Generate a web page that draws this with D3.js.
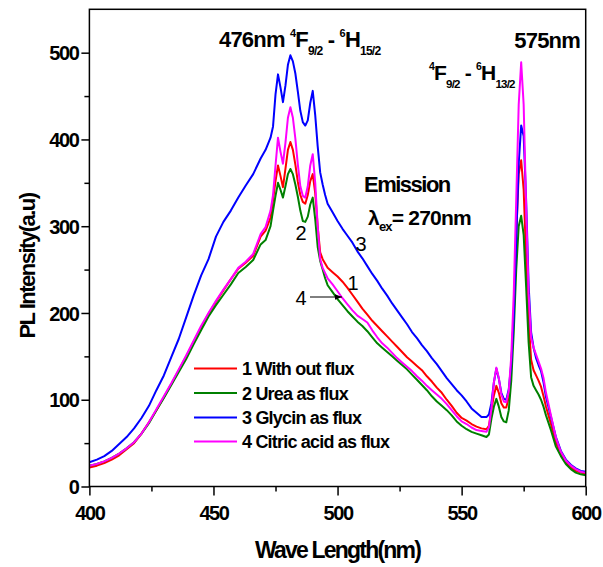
<!DOCTYPE html>
<html>
<head>
<meta charset="utf-8">
<script src="https://cdn.jsdelivr.net/npm/d3@7"></script>
<style>
  html, body { margin: 0; padding: 0; background: #fff; }
  svg { display: block; }
  text { font-family: "Liberation Sans", Arial, sans-serif; fill: #000; }
</style>
</head>
<body>
<svg id="chart" width="603" height="567"></svg>
<script>
// Emission wavelengths (nm)
const wavelengths = [
  400,403,406,409,412,415,418,421,424,427,430,433,436,439,442,445,448,451,454,457,460,463,466,469,
  471,473,
  474,475,476,477,478,479,480,481,482,483,484,485,486,487,488,489,490,491,492,493,494,495,496,
  498,500,502,504,506,508,510,512,514,516,518,520,522,524,526,528,530,532,534,536,538,540,542,544,546,548,550,552,554,556,558,560,
  561,562,563,564,565,566,567,568,569,570,571,572,573,574,575,576,577,578,579,580,581,582,583,584,
  586,588,590,592,594,596,598,600
];

// PL intensity (a.u) for each sample
const withoutFlux = [
  22,24,27,31,36,43,50,61,74,88,103,118,134,150,167,183,199,213,226,239,251,258,266,288,
  295,310,
  330,352,370,358,345,366,388,397,388,371,351,336,328,326,336,352,360,338,300,270,262,257,252,
  247,242,236,229,221,213,205,198,191,185,179,173,167,161,155,149,144,139,134,127,121,114,108,100,93,85,79,76,72,69,67,66,
  70,88,105,116,108,96,91,91,103,138,198,290,360,376,342,262,192,146,134,128,122,115,104,92,
  72,51,37,28,22,18,16,15
];
const ureaFlux = [
  24,26,29,33,38,44,51,61,73,88,102,117,132,147,164,180,196,209,221,233,246,253,261,279,
  284,300,
  318,335,350,342,333,346,360,366,360,348,334,318,306,305,311,325,333,308,276,260,250,240,232,
  224,216,209,202,196,190,185,179,172,165,160,155,150,145,140,135,129,123,117,111,104,98,93,88,82,75,70,66,63,61,59,57,
  60,78,92,101,92,80,75,74,88,122,178,250,300,312,290,230,166,126,116,111,106,100,92,82,
  65,46,35,26,20,16,14,13
];
const glycinFlux = [
  28,31,35,41,49,57,67,79,93,111,128,149,170,195,220,243,262,288,305,318,333,347,360,378,
  388,402,
  415,452,475,460,443,462,486,497,490,476,455,433,420,416,422,442,456,428,392,362,348,336,326,
  316,306,297,289,281,271,263,254,245,237,228,220,211,203,195,187,178,171,163,156,148,141,133,125,118,111,105,98,90,85,80,80,
  83,96,120,136,124,108,101,100,112,142,195,285,372,416,404,330,232,178,160,148,140,133,120,103,
  80,57,41,31,25,21,18,17
];
const citricFlux = [
  24,26,29,33,38,44,51,61,74,89,104,119,135,151,168,185,200,214,227,239,252,259,268,291,
  299,318,
  336,370,402,386,372,396,425,437,425,401,371,346,335,333,346,370,383,350,300,262,252,246,240,
  233,225,217,210,203,197,193,189,180,172,165,160,154,148,143,138,133,127,122,116,111,106,101,95,88,81,75,72,68,65,64,63,
  68,90,120,137,125,106,98,97,110,150,222,330,440,489,440,322,222,172,160,152,144,136,125,108,
  82,56,40,30,24,20,17,16
];

const seriesNames = ["1 With out flux", "2 Urea as flux", "3 Glycin as flux", "4 Citric acid as flux"];
const seriesValues = [withoutFlux, ureaFlux, glycinFlux, citricFlux];
const seriesColors = ["#ff0000", "#008000", "#0000ff", "#ff00ff"];

const xTicks = [400, 450, 500, 550, 600];
const xMinorTicks = [425, 475, 525, 575];
const yTicks = [0, 100, 200, 300, 400, 500];
const yMinorTicks = [50, 150, 250, 350, 450];

const svg = d3.select("#chart");
const plot = { left: 89.4, right: 585.7, top: 9.3, bottom: 486.5 };

const x = d3.scaleLinear().domain([400, 600]).range([plot.left, plot.right]);
const y = d3.scaleLinear().domain([0, 550]).range([plot.bottom, plot.top]);

// Spectra
const line = d3.line().x(d => x(d[0])).y(d => y(d[1]));
seriesValues.forEach((vals, i) => {
  const pts = wavelengths.map((w, j) => [w, vals[j]]);
  svg.append("path")
    .datum(pts)
    .attr("fill", "none")
    .attr("stroke", seriesColors[i])
    .attr("stroke-width", 2)
    .attr("stroke-linejoin", "round")
    .attr("d", line);
});

// Frame
svg.append("rect")
  .attr("x", plot.left).attr("y", plot.top)
  .attr("width", plot.right - plot.left).attr("height", plot.bottom - plot.top)
  .attr("fill", "none").attr("stroke", "#000").attr("stroke-width", 1.5);

// Axes
function styleAxis(g) {
  g.select(".domain").remove();
  g.selectAll(".tick line").attr("stroke", "#000").attr("stroke-width", 1.5);
}
const xAxis = svg.append("g")
  .attr("transform", `translate(0,${plot.bottom})`)
  .call(d3.axisBottom(x).tickValues(xTicks).tickSize(9).tickFormat(d3.format("d")))
  .call(styleAxis);
xAxis.selectAll(".tick text")
  .attr("y", 33).attr("dy", null)
  .style("font-size", "20px").style("font-weight", "bold").style("letter-spacing", "-1.4px");
svg.append("g")
  .attr("transform", `translate(0,${plot.bottom})`)
  .call(d3.axisBottom(x).tickValues(xMinorTicks).tickSize(5).tickFormat(""))
  .call(styleAxis);

const yAxis = svg.append("g")
  .attr("transform", `translate(${plot.left},0)`)
  .call(d3.axisLeft(y).tickValues(yTicks).tickSize(8).tickFormat(d3.format("d")))
  .call(styleAxis);
yAxis.selectAll(".tick text")
  .attr("x", -11).attr("dy", "0.36em")
  .style("font-size", "20px").style("font-weight", "bold").style("letter-spacing", "-1.4px");
svg.append("g")
  .attr("transform", `translate(${plot.left},0)`)
  .call(d3.axisLeft(y).tickValues(yMinorTicks).tickSize(5).tickFormat(""))
  .call(styleAxis);

// Axis titles
svg.append("text")
  .attr("x", (plot.left + plot.right) / 2).attr("y", 558)
  .attr("text-anchor", "middle")
  .style("font-size", "23px").style("font-weight", "bold").style("letter-spacing", "-1.8px")
  .text("Wave Length(nm)");
svg.append("text")
  .attr("transform", `translate(35,266) rotate(-90)`)
  .attr("text-anchor", "middle")
  .style("font-size", "22px").style("font-weight", "bold").style("letter-spacing", "-1.5px")
  .text("PL Intensity(a.u)");

// Transition labels
function termText(parent, xPos, yPos, size, parts) {
  const t = parent.append("text")
    .attr("x", xPos).attr("y", yPos)
    .style("font-size", size + "px").style("font-weight", "bold").style("letter-spacing", "-0.8px");
  parts.forEach(p => {
    const s = t.append("tspan").text(p.t);
    if (p.sup) s.style("font-size", (size * 0.5) + "px").attr("baseline-shift", "90%");
    if (p.sub) s.style("font-size", (size * 0.55) + "px").attr("baseline-shift", "-70%");
  });
  return t;
}
termText(svg, 219, 47, 22, [
  { t: "476nm " }, { t: "4", sup: true }, { t: "F" }, { t: "9/2", sub: true },
  { t: " - " }, { t: "6", sup: true }, { t: "H" }, { t: "15/2", sub: true }
]);
svg.append("text")
  .attr("x", 580).attr("y", 48).attr("text-anchor", "end")
  .style("font-size", "22px").style("font-weight", "bold").style("letter-spacing", "-0.8px")
  .text("575nm");
termText(svg, 429, 80, 21, [
  { t: "4", sup: true }, { t: "F" }, { t: "9/2", sub: true },
  { t: " - " }, { t: "6", sup: true }, { t: "H" }, { t: "13/2", sub: true }
]);

// Excitation note
svg.append("text")
  .attr("x", 364).attr("y", 192)
  .style("font-size", "22px").style("font-weight", "bold").style("letter-spacing", "-1.5px")
  .text("Emission");
const ex = svg.append("text")
  .attr("x", 368).attr("y", 225)
  .style("font-size", "21px").style("font-weight", "bold").style("letter-spacing", "-0.8px");
ex.append("tspan").text("λ");
ex.append("tspan").text("ex").style("font-size", "13px").attr("baseline-shift", "-45%");
ex.append("tspan").text("= 270nm");

// Curve numbers
const curveTags = [
  { t: "2", x: 301, y: 240 },
  { t: "3", x: 361, y: 251 },
  { t: "1", x: 353, y: 290 },
  { t: "4", x: 301, y: 305 }
];
svg.selectAll(".curve-tag").data(curveTags).enter().append("text")
  .attr("class", "curve-tag")
  .attr("x", d => d.x).attr("y", d => d.y).attr("text-anchor", "middle")
  .style("font-size", "20px")
  .text(d => d.t);

// Arrow from tag 4 to its curve
svg.append("defs").append("marker")
  .attr("id", "arrowhead").attr("viewBox", "0 0 10 10")
  .attr("refX", 10).attr("refY", 5)
  .attr("markerWidth", 7).attr("markerHeight", 7).attr("orient", "auto")
  .append("path").attr("d", "M0,1 L10,5 L0,9 Z").attr("fill", "#000");
svg.append("line")
  .attr("x1", 310).attr("y1", 297).attr("x2", 342).attr("y2", 297)
  .attr("stroke", "#000").attr("stroke-width", 1)
  .attr("marker-end", "url(#arrowhead)");

// Legend
const legendY = [368.5, 393, 417.5, 441.5];
const legend = svg.append("g");
seriesNames.forEach((name, i) => {
  legend.append("line")
    .attr("x1", 194).attr("x2", 237)
    .attr("y1", legendY[i]).attr("y2", legendY[i])
    .attr("stroke", seriesColors[i]).attr("stroke-width", 2);
  legend.append("text")
    .attr("x", 242).attr("y", legendY[i] + 6.5)
    .style("font-size", "18px").style("font-weight", "bold").style("letter-spacing", "-0.8px")
    .text(name);
});
</script>
</body>
</html>
